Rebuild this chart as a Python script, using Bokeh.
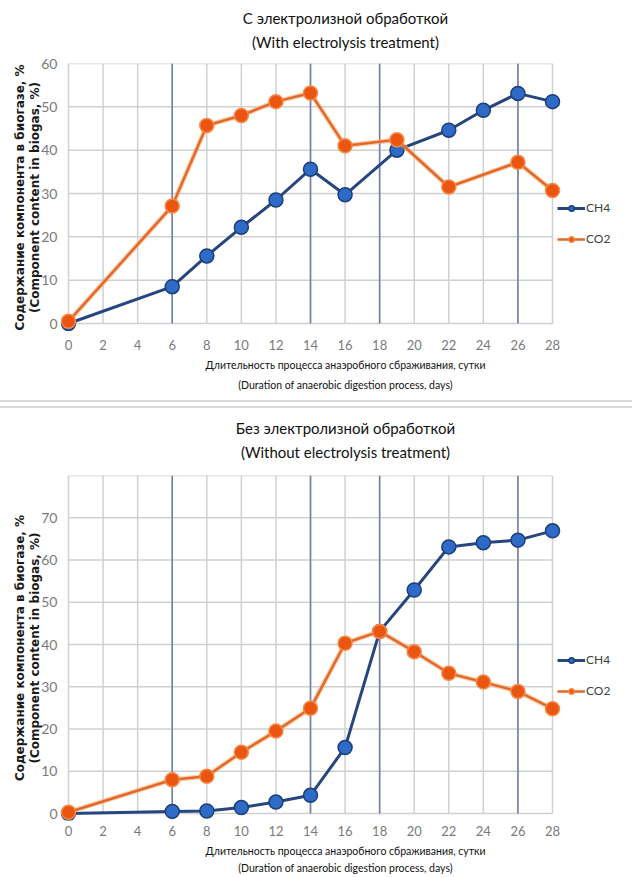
from bokeh.plotting import figure
from bokeh.models import Legend, LegendItem, FixedTicker, Div, LinearAxis
from bokeh.layouts import column
from bokeh.embed import file_html
from bokeh.resources import INLINE

# ---------------- data ----------------
x_ticks = list(range(0, 29, 2))

top_ch4_days = [0, 6, 8, 10, 12, 14, 16, 19, 22, 24, 26, 28]
top_ch4 = [0, 8.5, 15.6, 22.2, 28.5, 35.6, 29.7, 40.0, 44.6, 49.2, 53.1, 51.2]
top_co2_days = [0, 6, 8, 10, 12, 14, 16, 19, 22, 26, 28]
top_co2 = [0.5, 27.1, 45.7, 48.0, 51.2, 53.2, 41.0, 42.4, 31.5, 37.2, 30.7]

bot_days = [0, 6, 8, 10, 12, 14, 16, 18, 20, 22, 24, 26, 28]
bot_ch4 = [0, 0.5, 0.6, 1.4, 2.7, 4.3, 15.6, 43.1, 52.9, 63.1, 64.1, 64.7, 66.9]
bot_co2 = [0.3, 8.0, 8.8, 14.5, 19.5, 24.9, 40.3, 43.1, 38.3, 33.2, 31.1, 28.9, 24.8]

marker_days = [6, 14, 18, 26]

top_title = "С электролизной обработкой\n(With electrolysis treatment)"
bot_title = "Без электролизной обработкой\n(Without electrolysis treatment)"
x_label = "Длительность процесса анаэробного сбраживания, сутки\n(Duration of anaerobic digestion process, days)"
y_label = "Содержание компонента в биогазе, %\n(Component content in biogas, %)"

FONT = "Lato"
GRID = "#d0d0d0"
X_END = 28

# layout (pixels)
FIG_W = 632
BORDER_L = 58          # frame starts 10px left of day 0
DATA_W = 484           # pixels from day 0 to day 28


def make_fig(title, ch4_x, ch4_y, co2_x, co2_y, y_end, y_ticks, height,
             top, plot_h, y_pad_px, legend_y, title_standoff,
             tick_standoff, lab_lh, lab_standoff):
    px_day = DATA_W / X_END
    frame_w = FIG_W - BORDER_L
    x0 = -(10 / px_day)
    x1 = x0 + frame_w / px_day
    px_unit = plot_h / y_end
    y0 = -(y_pad_px / px_unit)
    frame_h = plot_h + y_pad_px
    bottom = height - top - frame_h

    p = figure(width=FIG_W, height=height, x_range=(x0, x1), y_range=(y0, y_end),
               output_backend="svg", toolbar_location=None,
               min_border_left=BORDER_L, min_border_right=0,
               min_border_top=top, min_border_bottom=int(bottom))
    p.outline_line_color = None
    p.xgrid.visible = False
    p.ygrid.visible = False

    # grid
    gy = list(range(0, y_end + 1, 10))
    p.segment(x0=x_ticks, y0=0, x1=x_ticks, y1=y_end, line_color=GRID, line_width=1.5)
    p.segment(x0=0, y0=gy, x1=X_END, y1=gy, line_color=GRID, line_width=1.5)
    p.segment(x0=marker_days, y0=0, x1=marker_days, y1=y_end, line_color="#7480a8", line_width=1.6)

    p.xaxis.ticker = FixedTicker(ticks=x_ticks)
    p.yaxis.ticker = FixedTicker(ticks=y_ticks)
    p.xaxis.bounds = (0, X_END)
    p.yaxis.bounds = (0, y_end)
    for ax in (p.xaxis, p.yaxis):
        ax.axis_line_color = None
        ax.major_tick_line_color = None
        ax.minor_tick_line_color = None
        ax.major_tick_out = 0
        ax.major_tick_in = 0
        ax.minor_tick_out = 0
        ax.minor_tick_in = 0
        ax.major_label_text_font = FONT
        ax.major_label_text_color = "#7a7a7a"
    p.xaxis.major_label_text_font_size = "13px"
    p.yaxis.major_label_text_font_size = "14px"
    p.xaxis.major_label_standoff = tick_standoff
    p.yaxis.major_label_standoff = 1

    p.xaxis.axis_label = x_label
    p.xaxis.axis_label_text_font = FONT
    p.xaxis.axis_label_text_font_size = "10.5px"
    p.xaxis.axis_label_text_font_style = "normal"
    p.xaxis.axis_label_text_color = "#111111"
    p.xaxis.axis_label_text_line_height = lab_lh
    p.xaxis.axis_label_standoff = lab_standoff

    p.yaxis.axis_label = y_label
    p.yaxis.axis_label_text_font = "DejaVu Sans"
    p.yaxis.axis_label_text_font_size = "12px"
    p.yaxis.axis_label_text_font_style = "bold"
    p.yaxis.axis_label_text_color = "#1a1a1a"
    p.yaxis.axis_label_text_line_height = 1.1
    p.yaxis.axis_label_standoff = -4

    # title as a centred label of an empty axis above (centred on days 0..28)
    tax = LinearAxis(ticker=FixedTicker(ticks=[]), bounds=(0, X_END),
                     axis_label=title, axis_line_color=None,
                     major_tick_line_color=None, minor_tick_line_color=None,
                     major_tick_out=0, major_tick_in=0,
                     major_label_text_font_size="0px",
                     axis_label_text_font=FONT, axis_label_text_font_size="15px",
                     axis_label_text_font_style="normal", axis_label_text_color="#111111",
                     axis_label_text_line_height=1.31, axis_label_standoff=title_standoff)
    p.add_layout(tax, "above")

    l1 = p.line(ch4_x, ch4_y, line_color="#27457e", line_width=3)
    s1 = p.scatter(ch4_x, ch4_y, size=14, fill_color="#2e6bc6", line_color="#1d3e78", line_width=1.5)
    p.line(co2_x, co2_y, line_color="#f6b27a", line_width=5, line_alpha=0.6)
    l2 = p.line(co2_x, co2_y, line_color="#e2692a", line_width=2.5)
    s2 = p.scatter(co2_x, co2_y, size=14, fill_color="#ea5512", line_color="#f58a45", line_width=1.5)

    legend = Legend(items=[LegendItem(label="CH4", renderers=[l1, s1]),
                           LegendItem(label="CO2", renderers=[l2, s2])],
                    location=(499, legend_y), orientation="vertical",
                    label_text_font=FONT, label_text_font_size="12px",
                    label_text_color="#404040", glyph_width=28, glyph_height=14,
                    label_standoff=1, spacing=16, padding=0, margin=0,
                    label_height=14,
                    border_line_color=None, background_fill_alpha=0)
    p.add_layout(legend, "center")
    return p


p1 = make_fig(top_title, top_ch4_days, top_ch4, top_co2_days, top_co2,
              60, list(range(0, 61, 10)), 400, 63, 260, 8, 85, 13,
              8, 1.68, 6)
sep = Div(text="", width=FIG_W, height=8, margin=(0, 0, 0, 0),
          styles={"border-top": "2px solid #d8d8d8", "border-bottom": "2px solid #d8d8d8",
                  "box-sizing": "border-box"})
p2 = make_fig(bot_title, bot_days, bot_ch4, bot_days, bot_co2,
              80, list(range(0, 71, 10)), 469, 67, 338, 7, 122, 15,
              5, 1.45, 6)

layout = column(p1, sep, p2, spacing=0)
open("out.html", "w").write(file_html(layout, INLINE))
